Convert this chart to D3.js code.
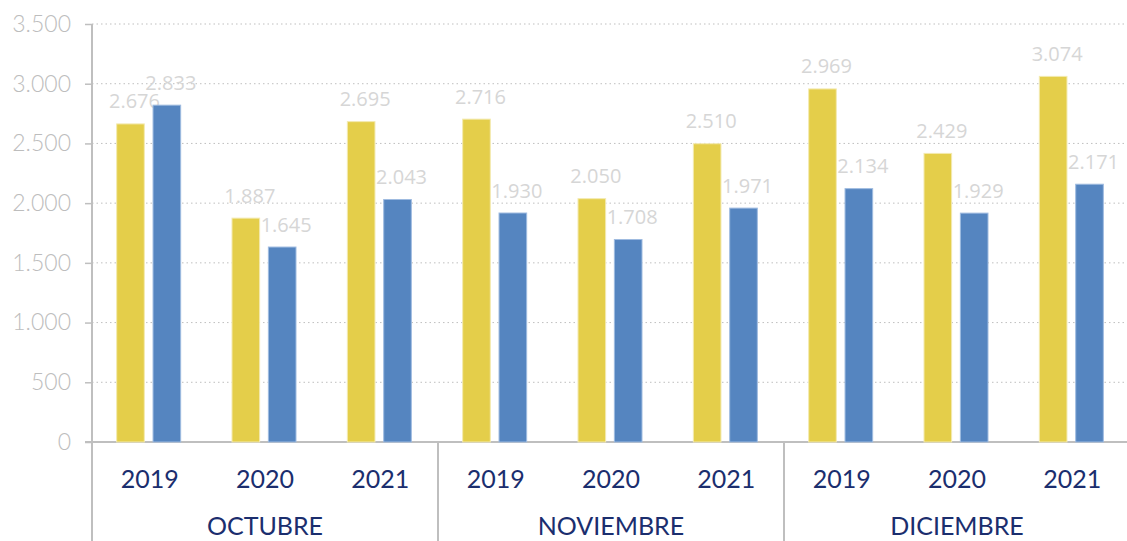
<!DOCTYPE html>
<html>
<head>
<meta charset="utf-8">
<script src="https://cdn.jsdelivr.net/npm/d3@7"></script>
<style>
  body { margin: 0; background: #fff; }
  .canvas svg { display: block; }
</style>
</head>
<body>
<div class="canvas"></div>
<script>
// data
const months = ['OCTUBRE', 'NOVIEMBRE', 'DICIEMBRE'];
const years = ['2019', '2020', '2021'];
const seriesA = [2676, 1887, 2695, 2716, 2050, 2510, 2969, 2429, 3074];
const seriesB = [2833, 1645, 2043, 1930, 1708, 1971, 2134, 1929, 2171];
const yTicks = [0, 500, 1000, 1500, 2000, 2500, 3000, 3500];

const width = 1127, height = 541;
const margin = {top: 24, right: 0, bottom: 99, left: 92};
const graphWidth = 1038;   // 3 months * 346
const graphHeight = height - margin.top - margin.bottom;

const svg = d3.select('.canvas')
    .append('svg')
    .attr('width', width)
    .attr('height', height);

const graph = svg.append('g')
    .attr('transform', `translate(${margin.left}, ${margin.top})`);

// build the rows: month + year
const rows = [];
months.forEach((m, i) => {
    years.forEach((yr, j) => {
        const k = i * 3 + j;
        rows.push({key: m + '-' + yr, month: m, year: yr, a: seriesA[k], b: seriesB[k]});
    });
});

// scales
const y = d3.scaleLinear().domain([0, 3500]).range([graphHeight, 0]);
const x = d3.scaleBand().domain(rows.map(d => d.key)).range([0, graphWidth]).padding(0);
const xMonth = d3.scaleBand().domain(months).range([0, graphWidth]).padding(0);
const inner = d3.scaleBand().domain(['a', 'b']).paddingInner(0.24).paddingOuter(0);
const colors = {a: '#E4CE4A', b: '#5585C0'};

// gridlines
graph.append('g')
    .selectAll('line')
    .data(yTicks.filter(t => t > 0))
    .enter().append('line')
    .attr('x1', 0)
    .attr('x2', width - margin.left)
    .attr('y1', d => y(d))
    .attr('y2', d => y(d))
    .attr('stroke', '#bfbfbf')
    .attr('stroke-width', 1)
    .attr('stroke-dasharray', '1.5,3');

// y axis
const yAxis = d3.axisLeft(y)
    .tickValues(yTicks)
    .tickSize(7)
    .tickFormat(d => d3.format(',')(d).replace(/,/g, '.'));

const yAxisGroup = graph.append('g').call(yAxis);
yAxisGroup.select('.domain').remove();
yAxisGroup.selectAll('line').attr('stroke', '#bfbfbf').attr('stroke-width', 1.5);
yAxisGroup.selectAll('text')
    .attr('x', -21)
    .attr('fill', '#bdbdbd')
    .style('font-family', 'Lato, sans-serif')
    .style('font-weight', 300)
    .style('font-size', '23px');

// axis lines
graph.append('line')
    .attr('x1', 0).attr('x2', 0)
    .attr('y1', 0).attr('y2', height - margin.top)
    .attr('stroke', '#bfbfbf').attr('stroke-width', 2);
graph.append('line')
    .attr('x1', -7).attr('x2', width - margin.left)
    .attr('y1', graphHeight).attr('y2', graphHeight)
    .attr('stroke', '#bfbfbf').attr('stroke-width', 2);

// month separators
graph.append('g')
    .selectAll('line')
    .data(months.slice(1))
    .enter().append('line')
    .attr('x1', d => xMonth(d)).attr('x2', d => xMonth(d))
    .attr('y1', graphHeight).attr('y2', height - margin.top)
    .attr('stroke', '#bfbfbf').attr('stroke-width', 2);

// bars
const groups = graph.selectAll('g.row')
    .data(rows)
    .enter().append('g')
    .attr('class', 'row')
    .attr('transform', d => `translate(${x(d.key) + x.bandwidth() / 2 - 33}, 0)`);

inner.range([0, 64]);

['a', 'b'].forEach(s => {
    groups.append('rect')
        .attr('x', inner(s))
        .attr('width', inner.bandwidth())
        .attr('y', d => y(d[s]) + 1.5)
        .attr('height', d => graphHeight - y(d[s]) - 1.5)
        .attr('fill', colors[s])
        .attr('stroke', s === 'a' ? '#f3eab0' : '#9fbbe0')
        .attr('stroke-width', 1);

    groups.append('text')
        .attr('x', inner(s) + inner.bandwidth() / 2 + 4)
        .attr('y', d => y(d[s]) - 14)
        .attr('text-anchor', 'middle')
        .attr('fill', '#d6d6d6')
        .style('font-family', '"Open Sans", sans-serif')
        .style('font-size', '20px')
        .text(d => d3.format(',')(d[s]).replace(/,/g, '.'));
});

// year labels
graph.append('g')
    .selectAll('text')
    .data(rows)
    .enter().append('text')
    .attr('x', d => x(d.key) + x.bandwidth() / 2)
    .attr('y', graphHeight + 46)
    .attr('text-anchor', 'middle')
    .attr('fill', '#1b2e6e')
    .style('font-family', 'Lato, sans-serif')
    .style('font-size', '25px')
    .text(d => d.year);

// month labels
graph.append('g')
    .selectAll('text')
    .data(months)
    .enter().append('text')
    .attr('x', d => xMonth(d) + xMonth.bandwidth() / 2)
    .attr('y', graphHeight + 93)
    .attr('text-anchor', 'middle')
    .attr('fill', '#1b2e6e')
    .style('font-family', 'Lato, sans-serif')
    .style('font-size', '25px')
    .text(d => d);
</script>
</body>
</html>
